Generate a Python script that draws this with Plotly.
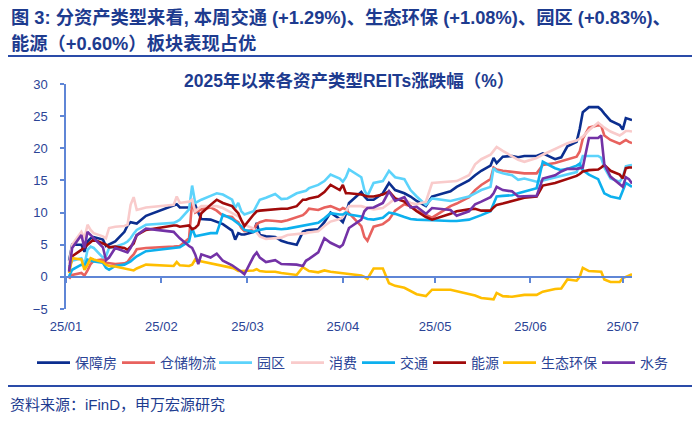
import plotly.graph_objects as go

# ---- trading days (2025) ----
jan_days = [2, 3, 6, 7, 8, 9, 10, 13, 14, 15, 17, 20, 21, 22, 23, 24, 27]
feb_days = [5, 6, 7, 10, 11, 12, 13, 14, 17, 19, 21, 24, 25, 26, 27, 28]
mar_days = [3, 4, 5, 7, 10, 12, 14, 17, 19, 20, 21, 24, 26, 28, 31]
apr_days = [1, 2, 3, 7, 8, 9, 11, 14, 16, 18, 21, 23, 25, 28, 30]
may_days = [6, 8, 12, 14, 16, 19, 20, 21, 23, 26, 28, 30]
jun_days = [3, 5, 9, 11, 13, 16, 17, 18, 20, 23, 24, 25, 27, 30]
jul_days = [1, 2, 3, 4]

month_days = [(1, jan_days), (2, feb_days), (3, mar_days), (4, apr_days),
              (5, may_days), (6, jun_days), (7, jul_days)]
dates = [f"2025-{m:02d}-{d:02d}" for m, days in month_days for d in days]

# ---- series values (% change since start of 2025) ----
baozhangfang = [
    2.5, 5, 5, 3.9, 5.5, 6, 6.2, 5.8, 4.8, 5, 5.5, 7, 8, 8.5, 8.4, 8.3, 9.5,
    11.2, 11.3, 10.8, 10.8, 11, 11.2, 10, 9, 8.9, 8.5, 8.2, 7.2, 5.8, 6.8, 6.6, 6.6,
    7, 8.4, 6.5, 6.3, 6.2, 5.6, 5.3, 5, 7, 7.2, 7.3, 7.4, 8.5, 10, 9,
    8.5, 9.8, 11.5, 13.2, 12.5, 12, 12, 13, 14.6, 13.5, 13, 12.5, 11.8, 11, 12.5,
    13.3, 14, 15, 15.8, 16.5, 17.3, 18.5, 17.7, 18.7, 18.8, 18.6, 18.8,
    18.8, 19.2, 18.3, 18.6, 20.3, 21, 23, 25.6, 26.4, 26.4, 26, 25.4, 24.3, 23.6,
    22.9, 24.7, 24.5, 24.4]
cangchu = [
    -0.3, 0.3, 0.6, 0.2, 1, 2, 2.5, 2.7, 2.2, 2.1, 2, 2.1, 2.3, 3, 3.5, 4.3, 4.5,
    4.7, 4.7, 4.8, 6, 11.7, 10, 10.2, 10.5, 10.8, 10.3, 9.5, 9.3, 8.8, 8.5, 7.6, 7.1,
    7.3, 8.2, 8.5, 8.8, 8.7, 8.6, 8.8, 9.3, 9.6, 10, 10.6, 10.4, 10.8, 11, 10.4,
    10.7, 10.5, 9.9, 7.9, 6.2, 5.6, 7.8, 8.2, 8.9, 10.3, 11.3, 11, 10.3, 9.6, 9.2,
    11, 11.4, 12.4, 13.5, 14.3, 15.2, 17, 16.7, 16.5, 16.3, 16.2, 16.1,
    16.1, 17.4, 17.7, 18, 18.3, 18.7, 19.5, 21.5, 23.2, 23.6, 23.5, 22, 21.3, 20.7,
    21, 21.3, 21, 20.8]
yuanqu = [
    1.6, 2.5, 2.9, 1.9, 4.2, 4.7, 4.5, 3, 3.2, 4.5, 4.7, 5.2, 5.5, 6, 6.7, 7.3, 8.1,
    8.4, 8.6, 8.9, 10.5, 14.2, 11.5, 11.8, 12, 12.6, 13, 12.8, 12, 10.7, 11.5, 10.2, 9.7,
    10.2, 11.2, 12, 12.3, 12.9, 12.1, 12.2, 13, 13.3, 13.4, 13.8, 14.3, 14.9, 15.9, 15.3,
    14.8, 15.5, 16.7, 15.5, 13.5, 12.6, 14.6, 14.9, 16.5, 15.5, 15.2, 13.5, 12.5, 11.2, 12.2,
    11.8, 12, 12.5, 13, 13.5, 14, 16.9, 16.4, 16.1, 15.8, 15.1, 15.3,
    14.8, 15, 15.5, 15.7, 15.9, 16.3, 17.4, 18.8, 18.8, 18.8, 18.5, 17, 15.3, 14.8,
    15.5, 17.2, 17.3, 17.4]
xiaofei = [
    2, 5, 7, 6, 8.1, 7.3, 6.8, 6.3, 6, 7.6, 7.8, 7.9, 8.1, 11.2, 12.4, 10.4, 10.8,
    11.2, 12.5, 11.5, 11.7, 12, 10.2, 10.6, 11, 11, 11, 10.7, 9.9, 9.6, 9.4, 8.9, 8.1,
    7.5, 6.8, 6.3, 5.9, 6, 6.1, 6.5, 6.6, 6.7, 6.8, 6.9, 7.1, 7.9, 8.6, 9,
    9.3, 10.2, 11, 11, 10.8, 10.7, 10.5, 10.7, 11.4, 12.2, 12, 11.5, 11.3, 11.7, 14.6,
    14.8, 14.9, 15.8, 17.5, 18.3, 19, 19.6, 20.2, 19.6, 18.8, 18.2, 17.9,
    18.5, 19, 19.9, 20.4, 20.8, 21.2, 21.5, 21.8, 22.8, 24, 23.6, 23.2, 22.6, 22,
    22.3, 22.7, 22.7, 22.6]
jiaotong = [
    0.1, 1.1, 1.9, 1.7, 2.7, 2.5, 2.4, 2.2, 1.4, 1.1, 1.7, 1.9, 2.1, 2.4, 2.8, 3.2, 4,
    4.5, 4.5, 4.6, 5.5, 7.6, 6.3, 6.4, 6.6, 6.8, 6.8, 9.7, 9, 8.6, 8.2, 7.9, 7.3,
    7, 7.2, 7.3, 7.5, 7.5, 7.4, 7.5, 7.8, 8, 8.1, 8.2, 8.4, 9.1, 9.9, 9.7,
    9.7, 10, 9.7, 9.4, 9.2, 9, 8.9, 9.2, 10, 9.8, 9.3, 9, 8.9, 8.8, 8.8,
    8.7, 8.7, 8.9, 9.2, 9.6, 10.2, 11.3, 12.5, 12.6, 12.7, 13, 13.3,
    13.8, 17.9, 16.9, 16.6, 16.8, 17.3, 17.6, 16.6, 15.9, 15.2, 14, 13, 12.5, 12.2,
    13.4, 14.6, 14.3, 14]
nengyuan = [
    1, 3.2, 4.2, 4.6, 5, 5.5, 5.8, 5.2, 5, 4.6, 4.7, 4.5, 4.2, 4.7, 5.2, 6.5, 7.3,
    8, 8, 7.8, 8, 7.4, 7.6, 8.1, 9.9, 11.2, 12, 11.5, 11, 10.4, 9.9, 8.8, 7.9,
    9.7, 10.2, 10.3, 10.4, 10.5, 10.6, 10.6, 11, 12, 12, 12.2, 12.5, 13.2, 14.3, 13.5,
    14.3, 13, 13, 12.8, 12.7, 12.5, 12.5, 12.8, 13.3, 12.2, 11.7, 11, 10.2, 9.3, 8.9,
    9.8, 10.2, 10.5, 10.6, 10.3, 10.3, 10.8, 11.2, 11.4, 11.8, 12.1, 12.3,
    12.5, 14.2, 14.6, 14.9, 15.2, 15.7, 16, 16.4, 16.6, 16.7, 17, 17.4, 16.5, 15.9,
    15.3, 16.9, 17, 17]
shengtai = [
    0.6, 2.9, 2.7, 1.1, 1.9, 2.9, 2.7, 2.3, 1.9, 1.7, 1.6, 1.3, 1.2, 1, 1, 1.3, 1.9,
    1.7, 2.3, 1.8, 1.7, 1.9, 2.7, 2.5, 2.4, 2.2, 1.9, 1.7, 1.4, 1.2, 0.9, 0.9, 0.9,
    1, 1.2, 0.9, 0.8, 0.8, 0.6, 0.5, 0.3, 1.5, 1.2, 0.9, 0.7, 1, 0.8, 0.6,
    0.6, 0.5, 0.5, 0.2, 0, -0.3, 1.3, 1.3, -1, -1.4, -1.7, -2.2, -2.7, -3, -2,
    -2, -2.2, -2.6, -2.9, -3.3, -3.4, -3.5, -2.5, -3, -3.1, -3, -2.8,
    -2.8, -2.3, -1.9, -1.8, -0.4, -0.6, 0, 1.4, 0.9, 0.9, 0.8, -0.4, -0.8, -0.8,
    -0.2, 0, 0.2, 0.4]
shuiwu = [
    0.8, 4.5, 6.5, 4.5, 7, 6.5, 6, 4.6, 2.6, 3, 4.5, 4, 3.8, 4.5, 5.5, 6.5, 7.5,
    7, 6.5, 6, 4.8, 4.5, 3.5, 2, 3.5, 3, 3.6, 2.5, 1.8, 1.5, 1.2, 0.8, 0.4,
    3.2, 3.8, 3, 2.3, 2.6, 2, 2, 1.9, 1.7, 2.5, 2.8, 3.8, 6, 5.3, 4.6,
    5, 6.3, 7.6, 8.9, 10.2, 10.7, 10.8, 11.5, 13.3, 11.8, 12.4, 10.8, 10.9, 9.8, 10.7,
    10.4, 9.5, 10.2, 11.3, 11.7, 12.4, 13, 14, 13.5, 13.3, 12.5, 12.5,
    12.6, 15.3, 15.8, 16.4, 16.8, 16.8, 16.9, 17, 21.6, 21.6, 22, 17.5, 15.6, 14.3,
    14, 15.5, 15.2, 14.5]

series_names = ["保障房", "仓储物流", "园区", "消费", "交通", "能源", "生态环保", "水务"]
series_values = [baozhangfang, cangchu, yuanqu, xiaofei, jiaotong, nengyuan, shengtai, shuiwu]
series_colors = ["#0B2E8F", "#E8625E", "#5CD3FB", "#F9CBCB",
                 "#0DB0EE", "#A00A0A", "#FFBE00", "#7332A6"]

title_line1 = "图 3: 分资产类型来看, 本周交通 (+1.29%)、生态环保 (+1.08%)、园区 (+0.83%)、"
title_line2 = "能源（+0.60%）板块表现占优"
chart_title = "2025年以来各资产类型REITs涨跌幅（%）"
source_text = "资料来源：iFinD，申万宏源研究"

# ---- layout geometry (pixels) ----
W, H = 700, 423
L, R, T, B = 66, 632, 84, 309
pw, ph = R - L, B - T
legend_line_px = [36, 121, 218, 290, 361, 432, 502, 601]   # where each legend key starts
legend_y_px = 363


def px_x(x):
    return (x - L) / pw


def px_y(y):
    return (B - y) / ph


FONT = "Liberation Sans, Arial, Noto Sans CJK SC, sans-serif"
DARK = "#1D3B8F"
AXIS = "#5F86D6"
TICK = "#2B4496"

legend_ids = ["legend"] + [f"legend{i}" for i in range(2, len(series_names) + 1)]

fig = go.Figure()
for name, vals, col, lid in zip(series_names, series_values, series_colors, legend_ids):
    fig.add_trace(go.Scatter(x=dates, y=vals, name=name, mode="lines", legend=lid,
                             line=dict(color=col, width=2.6)))

legend_layout = {}
for lid, lx in zip(legend_ids, legend_line_px):
    legend_layout[lid] = dict(orientation="h", xref="container", yref="container",
                              x=(lx - 4) / W, y=1 - legend_y_px / H,
                              xanchor="left", yanchor="middle",
                              font=dict(size=14, color=TICK), bgcolor="rgba(0,0,0,0)",
                              itemwidth=33, borderwidth=0)

fig.update_layout(
    width=W, height=H,
    margin=dict(l=L, r=W - R, t=T, b=H - B, pad=0, autoexpand=False),
    paper_bgcolor="white", plot_bgcolor="white",
    font=dict(family=FONT, color=TICK),
    showlegend=True,
    xaxis=dict(type="date", range=["2025-01-01", "2025-07-04"],
               tick0="2025-01-01", dtick="M1", tickformat="%y/%m",
               anchor="free", position=5 / 35, automargin=False,
               showline=True, linecolor=AXIS, linewidth=1.5,
               ticks="outside", ticklen=5, tickcolor=AXIS, tickwidth=1.5,
               ticklabelstandoff=33,
               tickfont=dict(size=13, color=TICK),
               showgrid=False, zeroline=False),
    yaxis=dict(range=[-5, 30], dtick=5, tick0=0, automargin=False,
               showline=True, linecolor=AXIS, linewidth=1.5,
               ticks="outside", ticklen=4, tickcolor=AXIS, tickwidth=1.5,
               ticklabelstandoff=10,
               tickfont=dict(size=13, color=TICK),
               showgrid=False, zeroline=False),
    **legend_layout,
)

fig.add_annotation(text=f"<b>{title_line1}</b>", xref="paper", yref="paper",
                   x=px_x(9), y=px_y(17), xanchor="left", yanchor="middle",
                   showarrow=False, font=dict(size=18.3, color=DARK, family=FONT))
fig.add_annotation(text=f"<b>{title_line2}</b>", xref="paper", yref="paper",
                   x=px_x(9), y=px_y(44), xanchor="left", yanchor="middle",
                   showarrow=False, font=dict(size=18.3, color=DARK, family=FONT))
fig.add_annotation(text=f"<b>{chart_title}</b>", xref="paper", yref="paper",
                   x=px_x(349), y=px_y(81), xanchor="center", yanchor="middle",
                   showarrow=False, font=dict(size=17.5, color=DARK, family=FONT))
fig.add_annotation(text=source_text, xref="paper", yref="paper",
                   x=px_x(8), y=px_y(404), xanchor="left", yanchor="middle",
                   showarrow=False, font=dict(size=15, color=DARK, family=FONT))

for yline in (56, 386):
    fig.add_shape(type="line", xref="paper", yref="paper",
                  x0=px_x(8), x1=px_x(692), y0=px_y(yline), y1=px_y(yline),
                  line=dict(color="#2A4BA8", width=2))

fig.write_html("out.html", config={"displayModeBar": False},
               post_script="document.body.style.margin='0';document.body.style.padding='0';")
